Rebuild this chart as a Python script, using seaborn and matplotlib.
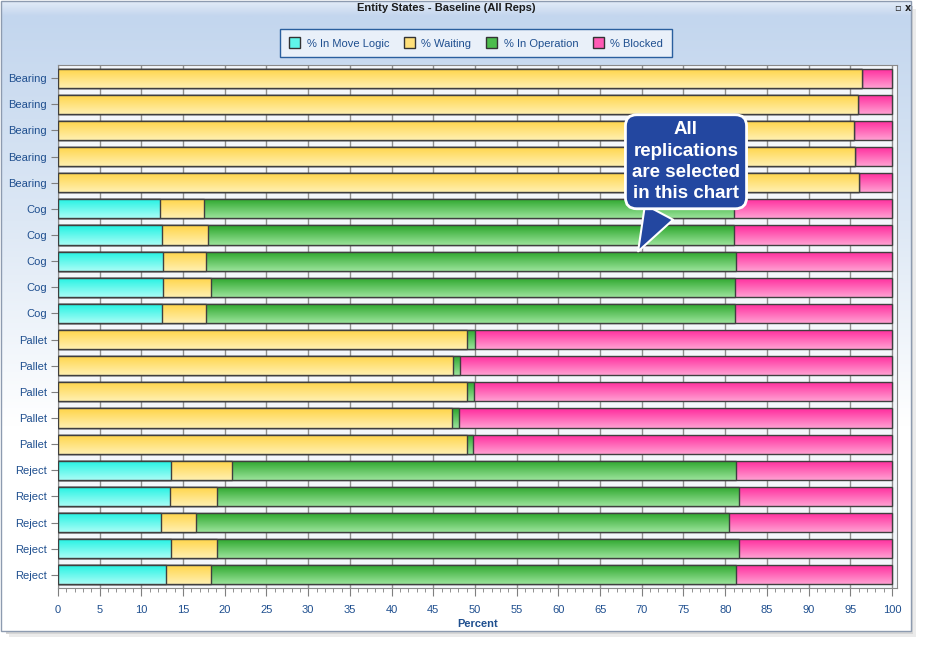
import pandas as pd
import seaborn as sns
import matplotlib.pyplot as plt
import numpy as np
from matplotlib.patches import Patch, Rectangle
from matplotlib.colors import LinearSegmentedColormap

# row labels (one bar per replication)
rows = ["Bearing"] * 5 + ["Cog"] * 5 + ["Pallet"] * 5 + ["Reject"] * 5

# percent of time in each state
move_logic = [0, 0, 0, 0, 0,
              12.2, 12.5, 12.6, 12.6, 12.5,
              0, 0, 0, 0, 0,
              13.6, 13.4, 12.4, 13.5, 12.9]
waiting = [96.4, 95.9, 95.4, 95.6, 96.0,
           5.3, 5.5, 5.1, 5.8, 5.3,
           49.1, 47.4, 49.1, 47.2, 49.0,
           7.3, 5.7, 4.2, 5.6, 5.5]
operation = [0, 0, 0, 0, 0,
             63.5, 63.1, 63.6, 62.8, 63.4,
             0.9, 0.8, 0.8, 0.9, 0.8,
             60.4, 62.6, 63.8, 62.6, 62.9]
blocked = [3.6, 4.1, 4.6, 4.4, 4.0,
           19.0, 18.9, 18.7, 18.8, 18.8,
           50.0, 51.8, 50.1, 51.9, 50.2,
           18.7, 18.3, 19.6, 18.3, 18.7]

states = ["% In Move Logic", "% Waiting", "% In Operation", "% Blocked"]
# (top, bottom) of each bar's vertical gradient
grads = [("#1ff2e2", "#a8fdf6"), ("#ffd447", "#fff0b0"),
         ("#2aa52a", "#9ae39a"), ("#ff2a9c", "#ff9fd2")]
mids = ["#5ff6ea", "#ffe07a", "#4cbc4c", "#ff5ab4"]

df = pd.DataFrame({"row": np.arange(len(rows)), "move": move_logic,
                   "wait": waiting, "oper": operation, "block": blocked})
# cumulative ends for stacking
df["c0"] = df["move"]
df["c1"] = df["c0"] + df["wait"]
df["c2"] = df["c1"] + df["oper"]
df["c3"] = df["c2"] + df["block"]

plt.rcParams["font.family"] = ["Liberation Sans", "DejaVu Sans"]

W, H = 926, 646
fig = plt.figure(figsize=(W / 100, H / 100), dpi=100)
fig.patch.set_facecolor("white")

# window chrome in pixel coordinates
bg = fig.add_axes([0, 0, 1, 1], zorder=-5)
bg.axis("off")
bg.add_patch(Rectangle((6, 6), 907, 628, fc="#b8b8b8", ec="none", alpha=0.6))
bg.add_patch(Rectangle((9, 9), 907, 628, fc="#d8d8d8", ec="none", alpha=0.5))
win_cmap = LinearSegmentedColormap.from_list("win", ["#c3d6ee", "#dde8f5", "#ffffff", "#ffffff"])
bg.imshow(np.linspace(0, 1, 256).reshape(-1, 1), cmap=win_cmap, aspect="auto",
          extent=[1, 911, 631, 16], zorder=1)
bar_cmap = LinearSegmentedColormap.from_list("tb", ["#e3ecf8", "#c4d6ee"])
bg.imshow(np.linspace(0, 1, 32).reshape(-1, 1), cmap=bar_cmap, aspect="auto",
          extent=[1, 911, 16, 1], zorder=1)
bg.add_patch(Rectangle((1, 1), 910, 630, fc="none", ec="#8d9bb0", lw=1, zorder=2))
bg.text(446, 8, "Entity States - Baseline (All Reps)", ha="center", va="center",
        fontsize=8, fontweight="bold", color="#1b1b1b", zorder=3)
bg.text(903, 8, "▫ x", ha="center", va="center", fontsize=7,
        fontweight="bold", color="#222222", zorder=3, family="DejaVu Sans")
bg.set_xlim(0, W)
bg.set_ylim(H, 0)

ax = fig.add_axes([58 / W, 1 - 588 / H, 839 / W, 523 / H])
ax.set_facecolor("#f4f7fb")
ax.set_axisbelow(True)

cols = ["c3", "c2", "c1", "c0"]
layers = [3, 2, 1, 0]
for col in cols:
    sns.barplot(data=df, x=col, y="row", orient="h", width=0.73,
                color="white", edgecolor="#3f3f3f", linewidth=1, ax=ax)

# repaint each bar with a vertical gradient
n = len(rows)
for i, p in enumerate(ax.patches):
    k = layers[i // n]
    x0, y0 = p.get_x(), p.get_y()
    w, h = p.get_width(), p.get_height()
    base = 2 + (3 - k) * 2
    if w <= 0:
        p.set_visible(False)
        continue
    cm = LinearSegmentedColormap.from_list("g%d" % k, list(grads[k]))
    im = ax.imshow(np.linspace(0, 1, 64).reshape(-1, 1), cmap=cm, aspect="auto",
                   extent=[x0, x0 + w, y0 + h, y0], zorder=base, interpolation="bilinear")
    im.set_clip_path(p)
    p.set_facecolor("none")
    p.set_zorder(base + 1)

ax.set_xlim(0, 100.6)
ax.set_ylim(n - 0.5, -0.5)
ax.set_yticks(range(n))
ax.set_yticklabels(rows)
ax.set_xticks(np.arange(0, 101, 5))
ax.set_xticks(np.arange(0, 101, 1), minor=True)
ax.grid(axis="x", which="major", color="#8f8f8f", lw=1)
ax.tick_params(axis="y", length=5, color="#7f7f7f", labelcolor="#1f4f8f",
               labelsize=8, pad=3)
ax.tick_params(axis="x", which="major", length=6, color="#7f7f7f",
               labelcolor="#1f4f8f", labelsize=8, pad=6)
ax.tick_params(axis="x", which="minor", length=3, color="#7f7f7f")
for s in ax.spines.values():
    s.set_color("#8a8a8a")
ax.set_xlabel("Percent", fontsize=8, fontweight="bold", color="#1f4f8f", labelpad=3)
ax.set_ylabel("")

handles = [Patch(fc=mids[k], ec="#333333", lw=1) for k in range(4)]
leg = fig.legend(handles, states, loc="center", bbox_to_anchor=(476 / W, 1 - 43 / H),
                 ncol=4, fontsize=8, frameon=True, fancybox=False,
                 edgecolor="#2a5f9e", facecolor="#e9f0f9", framealpha=1,
                 handlelength=1.0, handleheight=1.1, handletextpad=0.6,
                 columnspacing=1.3, borderpad=0.75)
leg.get_frame().set_linewidth(1)
for t in leg.get_texts():
    t.set_color("#1f4f8f")

ax.annotate("All\nreplications\nare selected\nin this chart",
            xy=(69.4, 6.72), xytext=(75.3, 3.2), ha="center", va="center",
            fontsize=13.5, fontweight="bold", color="white", linespacing=1.33,
            bbox=dict(boxstyle="round,pad=0.35,rounding_size=0.6", fc="#2347a0",
                      ec="white", lw=2),
            arrowprops=dict(arrowstyle="wedge,tail_width=1.7,shrink_factor=0.5",
                            fc="#2347a0", ec="white", lw=1.5),
            zorder=30, annotation_clip=False)

fig.savefig("out.png", dpi=100)
